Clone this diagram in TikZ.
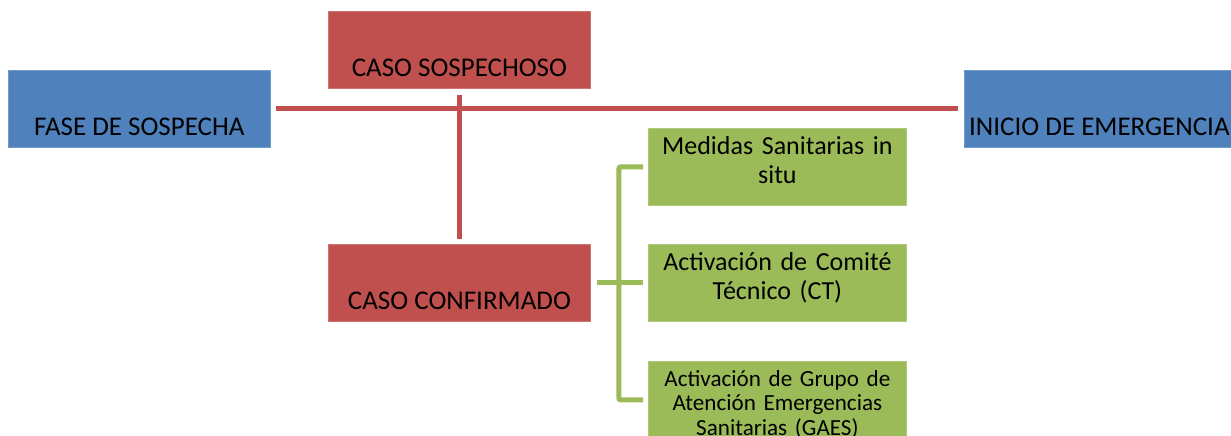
\documentclass[tikz,border=0pt]{standalone}
\usepackage{fontspec}
\setmainfont{Carlito}
\usetikzlibrary{calc}
\definecolor{boxblue}{HTML}{4F81BD}
\definecolor{boxred}{HTML}{C0504D}
\definecolor{boxgreen}{HTML}{9BBB59}
\begin{document}
\begin{tikzpicture}[x=1pt,y=-1pt,
  font=\fontsize{27}{30}\selectfont,
  phasebox/.style={fill=boxblue, draw=boxblue!80!white, line width=0.8pt,
    minimum width=262pt, text height=65pt, text depth=12pt,
    inner xsep=0pt, inner ysep=0pt, anchor=north west},
  casebox/.style={phasebox, fill=boxred, draw=boxred!80!white},
  actbox/.style={fill=boxgreen, draw=boxgreen!80!white, line width=0.8pt,
    text width=278pt, align=center, text height=26pt, text depth=51pt,
    font=\fontsize{26}{29}\selectfont,
    inner xsep=-10pt, inner ysep=0pt, anchor=north west},
  redline/.style={draw=boxred, line width=5pt},
  greenline/.style={draw=boxgreen, line width=5pt, rounded corners=2pt}]
\useasboundingbox (0,0) rectangle (1231,436);
\clip (0,0) rectangle (1231,436);

\node[phasebox] (fase) at (8,70) {FASE DE SOSPECHA};
\node[phasebox, minimum width=270pt] (inicio) at (964,70) {INICIO DE EMERGENCIA};
\node[casebox] (sosp) at (328,11) {CASO SOSPECHOSO};
\node[casebox] (conf) at (328,244) {CASO CONFIRMADO};

\node[actbox] (g1) at (648,128) {Medidas Sanitarias in\\situ};
\node[actbox] (g2) at (648,244) {Activación de Comité\\Técnico (CT)};
\node[actbox, font=\fontsize{23.1}{24.5}\selectfont, text height=25pt, text depth=52pt]
  (g3) at (648,361) {Activación de Grupo de\\Atención Emergencias\\Sanitarias (GAES)};

\draw[redline] ([xshift=5pt]fase.east) -- ([xshift=-6pt]inicio.west);
\draw[redline] ([yshift=-6pt]sosp.south) -- ([yshift=5pt]conf.north);

\coordinate (bus) at ($(conf.east)+(28,0)$);
\draw[greenline] ([xshift=6pt]conf.east) -- (bus);
\draw[greenline] ([xshift=-5pt]g1.west) -| (bus) |- ([xshift=-5pt]g3.west);
\draw[greenline] ([xshift=-5pt]g2.west) -- (bus);
\end{tikzpicture}
\end{document}
